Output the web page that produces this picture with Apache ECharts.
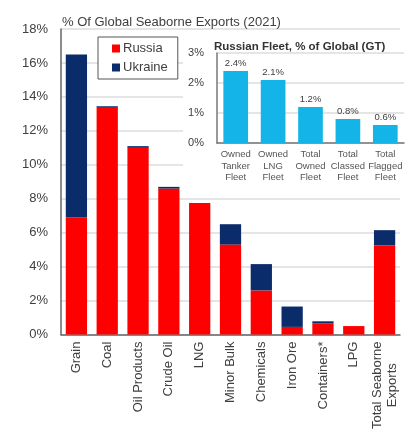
<!DOCTYPE html>
<html>
<head>
<meta charset="utf-8">
<script src="https://cdn.jsdelivr.net/npm/echarts@6/dist/echarts.min.js"></script>
<style>
html,body{margin:0;padding:0;background:#fff;}
#c{width:407px;height:432px;}
</style>
</head>
<body>
<div id="c"></div>
<script>
// Main chart data
const categories = ['Grain', 'Coal', 'Oil Products', 'Crude Oil', 'LNG', 'Minor Bulk', 'Chemicals', 'Iron Ore', 'Containers*', 'LPG', 'Total Seaborne\nExports'];
const russia = [6.9, 13.4, 11.0, 8.6, 7.75, 5.3, 2.6, 0.45, 0.65, 0.5, 5.25];
const ukraine = [9.6, 0.05, 0.1, 0.1, 0.0, 1.2, 1.55, 1.2, 0.13, 0.0, 0.9];
const mainTicks = [0, 2, 4, 6, 8, 10, 12, 14, 16, 18];

// Inset data
const fleetCategories = ['Owned\nTanker\nFleet', 'Owned\nLNG\nFleet', 'Total\nOwned\nFleet', 'Total\nClassed\nFleet', 'Total\nFlagged\nFleet'];
const fleetValues = [2.4, 2.1, 1.2, 0.8, 0.6];
const fleetTicks = [0, 1, 2, 3];

const FONT = 'Liberation Sans, Arial, sans-serif';
const TXT = '#404040';

const chart = echarts.init(document.getElementById('c'), null, {renderer: 'canvas'});
chart.setOption({
  animation: false,
  backgroundColor: '#ffffff',
  textStyle: {fontFamily: FONT},
  title: [{
    text: '% Of Global Seaborne Exports (2021)',
    left: 57, top: 11,
    textStyle: {fontSize: 13, fontWeight: 'normal', color: TXT, fontFamily: FONT}
  }, {
    text: 'Russian Fleet, % of Global (GT)',
    left: 209, top: 36,
    textStyle: {fontSize: 11.5, fontWeight: 'bold', color: '#333', fontFamily: FONT}
  }],
  legend: {
    data: ['Russia', 'Ukraine'],
    orient: 'vertical',
    left: 98, top: 37,
    padding: [5, 10, 5, 14],
    itemWidth: 8, itemHeight: 8, itemGap: 6,
    borderColor: '#555', borderWidth: 1,
    backgroundColor: '#fff',
    icon: 'rect',
    textStyle: {fontSize: 13, color: TXT, fontFamily: FONT, padding: [0, 0, 0, -2]}
  },
  graphic: [{
    type: 'rect', z: 1,
    shape: {x: 183, y: 32, width: 224, height: 160},
    style: {fill: '#ffffff'}
  }],
  grid: [
    {left: 61, right: 7, top: 29, bottom: 97},
    {left: 217, right: 3, top: 53, bottom: 289}
  ],
  xAxis: [{
    type: 'category', gridIndex: 0, data: categories,
    axisLine: {lineStyle: {color: '#666', width: 1.5}},
    axisTick: {show: false},
    axisLabel: {
      rotate: 90, margin: 7, fontSize: 13, color: TXT, fontFamily: FONT,
      formatter: v => v.split('\n').map(s => '{c|' + s + '}').join('\n'),
      rich: {c: {align: 'center', fontSize: 13, color: TXT, fontFamily: FONT, lineHeight: 15}}
    }
  }, {
    type: 'category', gridIndex: 1, data: fleetCategories, z: 3,
    axisLine: {lineStyle: {color: '#777', width: 1.5}},
    axisTick: {show: false},
    axisLabel: {interval: 0, margin: 6, fontSize: 9.5, lineHeight: 11.5, color: '#555', fontFamily: FONT}
  }],
  yAxis: [{
    type: 'value', gridIndex: 0, min: 0, max: 18, interval: 2,
    axisLine: {show: true, lineStyle: {color: '#666', width: 1.5}},
    axisTick: {show: false},
    splitLine: {lineStyle: {color: '#dcdcdc', width: 1.5}},
    axisLabel: {
      margin: 13, fontSize: 13, color: TXT, fontFamily: FONT,
      customValues: mainTicks,
      formatter: v => v + '%'
    }
  }, {
    type: 'value', gridIndex: 1, min: 0, max: 3, interval: 1, z: 3,
    axisLine: {show: true, lineStyle: {color: '#777', width: 1.5}},
    axisTick: {show: false},
    splitLine: {lineStyle: {color: '#dcdcdc', width: 1.5}},
    axisLabel: {
      margin: 13, fontSize: 11, color: TXT, fontFamily: FONT,
      customValues: fleetTicks,
      formatter: v => v + '%'
    }
  }],
  series: [{
    name: 'Russia', type: 'bar', stack: 'main', xAxisIndex: 0, yAxisIndex: 0,
    data: russia, barCategoryGap: '31%', itemStyle: {color: '#ff0000'}
  }, {
    name: 'Ukraine', type: 'bar', stack: 'main', xAxisIndex: 0, yAxisIndex: 0,
    data: ukraine, itemStyle: {color: '#0b2c6a'}
  }, {
    name: 'Fleet', type: 'bar', xAxisIndex: 1, yAxisIndex: 1, z: 4,
    data: fleetValues, barCategoryGap: '34%', itemStyle: {color: '#14b4e8'},
    label: {
      show: true, position: 'top', distance: 3, fontSize: 9.5, color: TXT, fontFamily: FONT,
      formatter: p => p.value.toFixed(1) + '%'
    }
  }]
});
</script>
</body>
</html>
